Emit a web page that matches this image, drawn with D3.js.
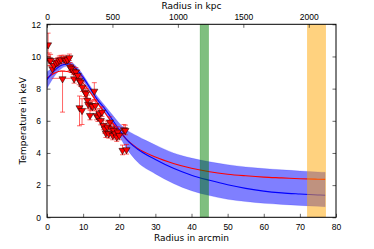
<!DOCTYPE html>
<html>
<head>
<meta charset="utf-8">
<script src="https://cdn.jsdelivr.net/npm/d3@7"></script>
<style>
  html, body { margin: 0; padding: 0; background: #fff; }
  svg { display: block; font-family: "DejaVu Sans", sans-serif; }
</style>
</head>
<body>
<div id="chart"></div>
<script>
// observed temperature profile (arcmin, keV)
const radius = [0.3, 0.6, 1.0, 1.5, 1.9, 2.5, 3.0, 3.4, 3.9, 4.3, 4.7, 5.2, 5.7, 6.2, 6.4, 6.7, 7.3, 7.5, 8.0, 8.5,
  8.9, 9.0, 9.3, 9.7, 9.8, 10.5, 10.8, 11.2, 11.4, 11.9, 12.2, 12.6, 13.1, 13.4, 13.7, 14.1, 14.5, 14.9, 15.2, 15.6,
  16.0, 16.3, 16.7, 17.1, 17.4, 17.8, 18.2, 18.5, 18.9, 19.3, 19.6, 20.0, 20.9, 21.3, 21.7, 22.0];
const temp = [10.75, 9.82, 9.78, 9.26, 9.47, 9.62, 9.68, 9.78, 9.82, 8.64, 9.88, 9.78, 9.82, 9.95, 9.37, 9.26, 9.12, 8.64, 9.06, 8.85,
  8.54, 6.84, 8.44, 6.67, 8.12, 7.81, 7.71, 7.30, 7.05, 6.36, 6.98, 6.92, 7.87, 6.98, 6.36, 6.26, 6.47, 6.05, 6.57, 5.74,
  5.53, 5.26, 5.64, 5.22, 5.95, 5.53, 5.12, 5.43, 5.22, 5.02, 5.33, 5.12, 4.19, 5.47, 5.43, 4.23];
const tempErrLo = [0.75, 0.4, 0.35, 0.3, 0.3, 0.25, 0.25, 0.25, 0.25, 2.1, 0.2, 0.2, 0.2, 0.2, 0.25, 0.25, 0.25, 0.3, 0.25, 0.3,
  0.3, 1.15, 0.3, 0.9, 0.3, 0.3, 0.3, 0.3, 0.3, 0.3, 0.3, 0.3, 0.55, 0.3, 0.3, 0.3, 0.3, 0.3, 0.3, 0.3,
  0.3, 0.3, 0.3, 0.3, 0.3, 0.3, 0.3, 0.3, 0.3, 0.3, 0.3, 0.3, 0.3, 0.3, 0.3, 0.3];
const tempErrHi = [0.7, 0.4, 0.35, 0.3, 0.3, 0.25, 0.25, 0.25, 0.25, 0.45, 0.2, 0.2, 0.2, 0.2, 0.25, 0.25, 0.25, 0.3, 0.25, 0.3,
  0.3, 0.7, 0.3, 0.7, 0.3, 0.3, 0.3, 0.3, 0.3, 0.3, 0.3, 0.3, 0.5, 0.3, 0.3, 0.3, 0.3, 0.3, 0.3, 0.3,
  0.3, 0.3, 0.3, 0.3, 0.3, 0.3, 0.3, 0.3, 0.3, 0.3, 0.3, 0.3, 0.3, 0.3, 0.3, 0.3];
const radiusErr = [0.3, 0.3, 0.3, 0.3, 0.3, 0.3, 0.3, 0.3, 0.3, 3.0, 0.3, 0.3, 0.3, 0.3, 0.3, 0.3, 0.3, 0.4, 0.3, 0.4,
  0.4, 0.4, 0.4, 0.4, 0.4, 0.4, 0.4, 0.4, 0.4, 0.4, 0.4, 0.4, 0.4, 0.4, 0.4, 0.4, 0.4, 0.4, 0.4, 0.4,
  0.4, 0.4, 0.4, 0.4, 0.4, 0.4, 0.4, 0.4, 0.4, 0.4, 0.4, 0.4, 0.5, 0.5, 0.5, 0.5];

// model curves
const modelR     = [0, 2, 4, 6, 8, 10, 12, 14, 16, 18, 20, 22, 25, 30, 35, 40, 45, 50, 55, 60, 65, 70, 75, 77];
const blueMid    = [8.55, 9.1, 9.45, 9.55, 9.25, 8.7, 8.0, 7.3, 6.75, 6.1, 5.45, 4.85, 4.25, 3.6, 3.05, 2.62, 2.3, 2.02, 1.8, 1.63, 1.52, 1.45, 1.39, 1.37];
const blueUpper  = [9.05, 9.35, 9.6, 9.7, 9.4, 8.85, 8.15, 7.5, 6.95, 6.4, 5.85, 5.45, 5.05, 4.5, 4.0, 3.68, 3.45, 3.27, 3.13, 3.03, 2.95, 2.88, 2.82, 2.8];
const blueLower  = [8.0, 8.75, 9.25, 9.4, 9.05, 8.5, 7.8, 7.1, 6.5, 5.8, 5.05, 4.3, 3.45, 2.7, 2.1, 1.65, 1.35, 1.12, 0.98, 0.87, 0.8, 0.74, 0.68, 0.66];
const redMid     = [8.65, 8.95, 9.1, 9.05, 8.85, 8.35, 7.75, 7.1, 6.5, 5.9, 5.35, 4.85, 4.3, 3.75, 3.35, 3.05, 2.83, 2.68, 2.58, 2.5, 2.45, 2.4, 2.37, 2.36];

// shaded radius ranges (arcmin)
const spans = [
  { from: 42.4, to: 44.7, color: "#008000" },
  { from: 72.1, to: 77.1, color: "#ffa500" }
];

const xTicks = [0, 10, 20, 30, 40, 50, 60, 70, 80];
const yTicks = [0, 2, 4, 6, 8, 10, 12];
const kpcTicks = [0, 500, 1000, 1500, 2000];
const kpcPerArcmin = 27.6;

const W = 374, H = 249;
const margin = { top: 24.3, right: 38, bottom: 31.7, left: 47 };
const iw = W - margin.left - margin.right;
const ih = H - margin.top - margin.bottom;

const svg = d3.select("#chart").append("svg")
  .attr("width", W).attr("height", H);
const g = svg.append("g").attr("transform", `translate(${margin.left},${margin.top})`);

const x = d3.scaleLinear().domain([0, 80]).range([0, iw]);
const xTop = d3.scaleLinear().domain([0, 80 * kpcPerArcmin]).range([0, iw]);
const y = d3.scaleLinear().domain([0, 12]).range([ih, 0]);

g.append("defs").append("clipPath").attr("id", "clip")
  .append("rect").attr("width", iw).attr("height", ih);
const plot = g.append("g").attr("clip-path", "url(#clip)");

// confidence band
const band = modelR.map((r, i) => ({ r, lo: blueLower[i], hi: blueUpper[i] }));
plot.append("path")
  .datum(band)
  .attr("d", d3.area().curve(d3.curveMonotoneX)
    .x(d => x(d.r)).y0(d => y(d.lo)).y1(d => y(d.hi)))
  .attr("fill", "#0000ff").attr("fill-opacity", 0.5)
  .attr("stroke", "#0000ff").attr("stroke-opacity", 0.3).attr("stroke-width", 0.5);

const line = d3.line().curve(d3.curveMonotoneX).x(d => x(d[0])).y(d => y(d[1]));
plot.append("path")
  .datum(modelR.map((r, i) => [r, redMid[i]]))
  .attr("d", line).attr("fill", "none").attr("stroke", "#ff0000").attr("stroke-width", 1.1);
plot.append("path")
  .datum(modelR.map((r, i) => [r, blueMid[i]]))
  .attr("d", line).attr("fill", "none").attr("stroke", "#0000ff").attr("stroke-width", 1.1);

// shaded spans
plot.selectAll("rect.span")
  .data(spans)
  .join("rect")
  .attr("class", "span")
  .attr("x", d => x(d.from))
  .attr("width", d => x(d.to) - x(d.from))
  .attr("y", 0).attr("height", ih)
  .attr("fill", d => d.color).attr("fill-opacity", 0.5)
  .attr("stroke", d => d.color).attr("stroke-opacity", 0.35).attr("stroke-width", 0.8);

// data points with error bars
const pts = radius.map((r, i) => ({
  r, t: temp[i], lo: temp[i] - tempErrLo[i], hi: temp[i] + tempErrHi[i], re: radiusErr[i]
}));
const err = plot.append("g")
  .attr("stroke", "#ff0000").attr("stroke-opacity", 0.6).attr("stroke-width", 1);
err.selectAll("line.v").data(pts).join("line").attr("class", "v")
  .attr("x1", d => x(d.r)).attr("x2", d => x(d.r))
  .attr("y1", d => y(d.lo)).attr("y2", d => y(d.hi));
err.selectAll("line.h").data(pts).join("line").attr("class", "h")
  .attr("x1", d => x(Math.max(0, d.r - d.re))).attr("x2", d => x(d.r + d.re))
  .attr("y1", d => y(d.t)).attr("y2", d => y(d.t));
err.selectAll("line.capTop").data(pts).join("line").attr("class", "capTop")
  .attr("x1", d => x(d.r) - 2.5).attr("x2", d => x(d.r) + 2.5)
  .attr("y1", d => y(d.hi)).attr("y2", d => y(d.hi));
err.selectAll("line.capBot").data(pts).join("line").attr("class", "capBot")
  .attr("x1", d => x(d.r) - 2.5).attr("x2", d => x(d.r) + 2.5)
  .attr("y1", d => y(d.lo)).attr("y2", d => y(d.lo));

const tri = d3.symbol().type(d3.symbolTriangle).size(22);
plot.selectAll("path.pt").data(pts).join("path").attr("class", "pt")
  .attr("d", tri)
  .attr("transform", d => `translate(${x(d.r)},${y(d.t) + 0.5}) rotate(180)`)
  .attr("fill", "#ff0000").attr("stroke", "#000").attr("stroke-width", 0.5);

// axes, matplotlib classic style: inward ticks
const fs = "8.5px";
function style(sel) {
  sel.select(".domain").remove();
  sel.selectAll(".tick line").attr("stroke", "#000").attr("stroke-width", 0.6);
  sel.selectAll(".tick text").attr("fill", "#000").style("font-size", fs);
}
g.append("g").attr("transform", `translate(0,${ih})`)
  .call(d3.axisBottom(x).tickValues(xTicks).tickSizeInner(-3.5).tickPadding(7).tickSizeOuter(0))
  .call(style);
g.append("g")
  .call(d3.axisTop(xTop).tickValues(kpcTicks).tickFormat(d3.format("d"))
    .tickSizeInner(-3.5).tickPadding(4.5).tickSizeOuter(0))
  .call(style);
g.append("g")
  .call(d3.axisLeft(y).tickValues(yTicks).tickSizeInner(-3.5).tickPadding(6).tickSizeOuter(0))
  .call(style);
g.append("g").attr("transform", `translate(${iw},0)`)
  .call(d3.axisRight(y).tickValues(yTicks).tickSizeInner(-3.5).tickSizeOuter(0).tickFormat(""))
  .call(style);

g.append("rect").attr("width", iw).attr("height", ih)
  .attr("fill", "none").attr("stroke", "#000").attr("stroke-width", 1);

// axis titles
svg.append("text").attr("x", margin.left + iw / 2).attr("y", 8.5)
  .attr("text-anchor", "middle").style("font-size", "9px").text("Radius in kpc");
svg.append("text").attr("x", margin.left + iw / 2).attr("y", 241)
  .attr("text-anchor", "middle").style("font-size", "9px").text("Radius in arcmin");
svg.append("text")
  .attr("transform", `translate(26,${margin.top + ih / 2}) rotate(-90)`)
  .attr("text-anchor", "middle").style("font-size", "9px").text("Temperature in keV");
</script>
</body>
</html>
